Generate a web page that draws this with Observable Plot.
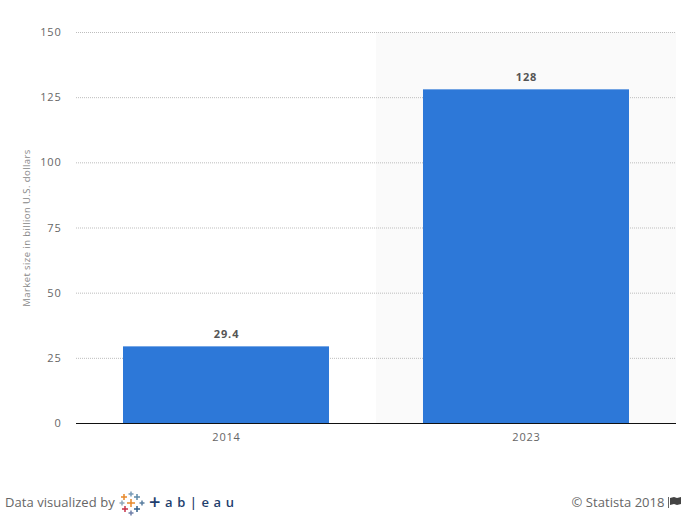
<!DOCTYPE html>
<html>
<head>
<meta charset="utf-8">
<script src="https://cdn.jsdelivr.net/npm/d3@7"></script>
<script src="https://cdn.jsdelivr.net/npm/@observablehq/plot@0.6"></script>
<style>
html,body{margin:0;padding:0;background:#fff;width:694px;height:517px;overflow:hidden;font-family:"Open Sans",sans-serif}
#chart{position:absolute;left:0;top:0}
#chart svg{display:block;background:#fff}
#chart g[aria-label$="tick label"]{letter-spacing:.8px}
.left{position:absolute;left:5px;top:492px;height:22px;font-size:13px;line-height:20px;color:#666;letter-spacing:.05px}
.right{position:absolute;right:13px;top:492px;font-size:13px;line-height:20px;color:#666;letter-spacing:.05px;display:flex;align-items:center}
.tab{position:absolute;left:144px;top:0;color:#1f3f6e;font-size:13px;line-height:20px;letter-spacing:.6px;white-space:nowrap;font-weight:600}
.tab b{font-size:20px;font-weight:600;line-height:20px;vertical-align:-2px}
</style>
</head>
<body>
<div id="chart"></div>
<div class="left"><span>Data visualized by</span>
<svg width="26" height="25" viewBox="0 0 26 25" style="position:absolute;left:114px;top:-1px" id="logo"></svg>
<span class="tab"><b>+</b> a b | e a u</span>
</div>
<div class="right">© Statista 2018&nbsp;<span style="display:inline-block;width:1px;height:11px;background:#666;margin-right:1px"></span><svg width="11" height="10" viewBox="0 0 11 10"><path d="M0 1 L4 0 L7 1 L11 0 L11 7 L7 8 L4 7 L0 8 Z" fill="#444"/></svg></div>
<script>
const years = ["2014", "2023"];
const marketSize = [29.4, 128];
const valueLabels = ["29.4", "128"];
const yTicks = [0, 25, 50, 75, 100, 125, 150];
const shadedYears = ["2023"];
const yMax = 150;
const yTitle = "Market size in billion U.S. dollars";

const rows = years.map((year, i) => ({year, value: marketSize[i], label: valueLabels[i]}));
const gridTicks = yTicks.filter(t => t > 0);

const plot = Plot.plot({
  width: 694,
  height: 470,
  marginLeft: 76,
  marginRight: 18,
  marginTop: 32,
  marginBottom: 47,
  style: {fontFamily: "'Open Sans', sans-serif", background: "#fff"},
  x: {domain: years, paddingInner: 0.3133, paddingOuter: 0.1567, align: 0.5, round: false, label: null},
  y: {domain: [0, yMax], label: null},
  marks: [
    Plot.barY(shadedYears, {x: d => d, y: () => yMax, fill: "#fafafa", insetLeft: -47, insetRight: -47}),
    Plot.ruleY(gridTicks, {stroke: "#bdbdbd", strokeWidth: 1, strokeDasharray: "1,1"}),
    Plot.barY(rows, {x: "year", y: "value", fill: "#2d78d8"}),
    Plot.ruleY([0], {stroke: "#111", strokeWidth: 1}),
    Plot.text(rows, {x: "year", y: "value", text: "label", dy: -12, fontSize: 11, fontWeight: 700, fill: "#555"}),
    Plot.axisY(yTicks, {tickSize: 0, tickPadding: 15, fontSize: 11, fill: "#666", label: null}),
    Plot.axisX(years, {tickSize: 0, tickPadding: 10, fontSize: 11, fill: "#666", label: null}),
    Plot.text([yTitle], {frameAnchor: "left", textAnchor: "middle", dx: -50, rotate: -90, fontSize: 9.5, fill: "#888"})
  ]
});
document.getElementById("chart").appendChild(plot);

// Letter spacing for the value labels and the y title
d3.select(plot).selectAll("text").each(function () {
  const t = this.textContent;
  if (valueLabels.includes(t)) this.style.letterSpacing = "0.9px";
  if (t === yTitle) this.style.letterSpacing = "0.42px";
});

// Tableau logo (decoration, not data)
const crosses = [
  [12,3,2.5,"#7a9cb8"],[5,6,3,"#e8892b"],[18,6,3,"#5f8aa8"],
  [3,12,2.5,"#8fa9bd"],[12,12,4,"#e8892b"],[23,12,2.5,"#5a7ea0"],
  [6,18,3,"#c8324a"],[18,18,3,"#2f5f8a"],[12,22,2.5,"#6f7fa8"]
];
const logo = d3.select("#logo");
for (const [cx, cy, r, c] of crosses) {
  logo.append("path").attr("d", `M${cx-r} ${cy}H${cx+r}M${cx} ${cy-r}V${cy+r}`)
    .attr("stroke", c).attr("stroke-width", 1.5).attr("fill", "none");
}
</script>
</body>
</html>
